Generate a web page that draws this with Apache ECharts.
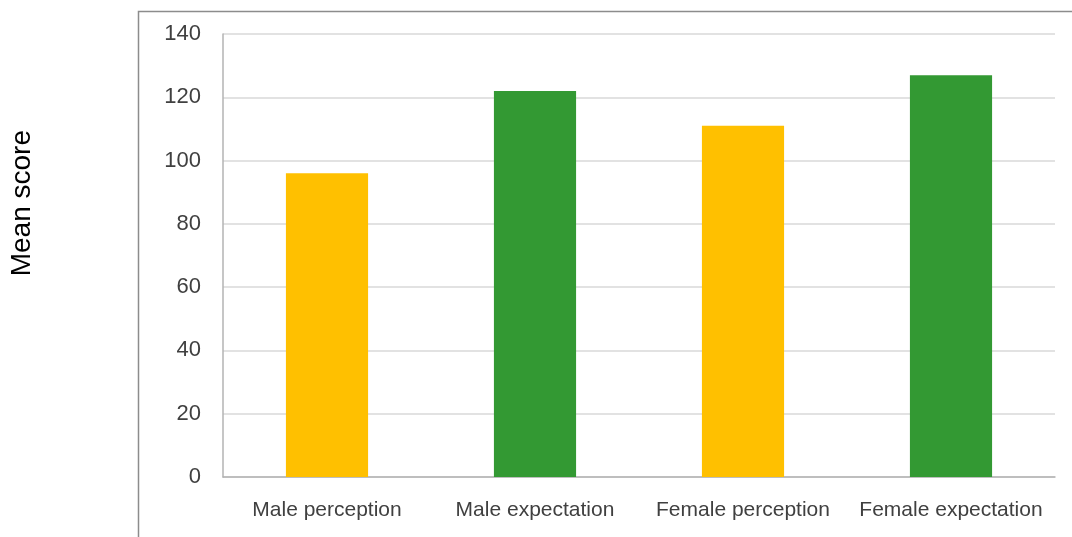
<!DOCTYPE html>
<html>
<head>
<meta charset="utf-8">
<script src="https://cdn.jsdelivr.net/npm/echarts@6/dist/echarts.min.js"></script>
<style>
  html, body { margin: 0; padding: 0; background: #ffffff; }
  #chart { width: 1072px; height: 537px; }
</style>
</head>
<body>
<div id="chart"></div>
<script>
// Mean scores by group
const categories = ['Male perception', 'Male expectation', 'Female perception', 'Female expectation'];
const meanScores = [96, 122, 111, 127];
const barColors = ['#FFC000', '#339933', '#FFC000', '#339933'];
const yTicks = { min: 0, max: 140, interval: 20 };

const chart = echarts.init(document.getElementById('chart'), null, { renderer: 'canvas' });

chart.setOption({
  backgroundColor: '#ffffff',
  animation: false,
  graphic: [
    {
      type: 'rect',
      shape: { x: 138.5, y: 11.5, width: 1000, height: 600 },
      style: { fill: 'none', stroke: '#8c8c8c', lineWidth: 1.5 },
      z: -1
    },
    {
      type: 'text',
      left: 8,
      top: 130,
      rotation: Math.PI / 2,
      style: {
        text: 'Mean score',
        font: '28px "Liberation Sans", Arial, sans-serif',
        fill: '#000000'
      }
    }
  ],
  grid: { left: 223, right: 17, top: 34, bottom: 60, containLabel: false },
  xAxis: {
    type: 'category',
    data: categories,
    axisLine: { show: true, lineStyle: { color: '#b3b3b3', width: 1.5 } },
    axisTick: { show: false },
    axisLabel: {
      interval: 0,
      margin: 23,
      color: '#404040',
      fontFamily: '"Liberation Sans", Arial, sans-serif',
      fontSize: 21
    },
    splitLine: { show: false }
  },
  yAxis: {
    type: 'value',
    min: yTicks.min,
    max: yTicks.max,
    interval: yTicks.interval,
    axisLine: { show: true, lineStyle: { color: '#b3b3b3', width: 1.5 } },
    axisTick: { show: false },
    axisLabel: {
      margin: 22,
      color: '#404040',
      fontFamily: '"Liberation Sans", Arial, sans-serif',
      fontSize: 22
    },
    splitLine: { show: true, lineStyle: { color: '#d9d9d9', width: 1.5 } }
  },
  series: [
    {
      type: 'bar',
      data: meanScores.map((v, i) => ({ value: v, itemStyle: { color: barColors[i] } })),
      barWidth: '39.5%'
    }
  ]
});
</script>
</body>
</html>
